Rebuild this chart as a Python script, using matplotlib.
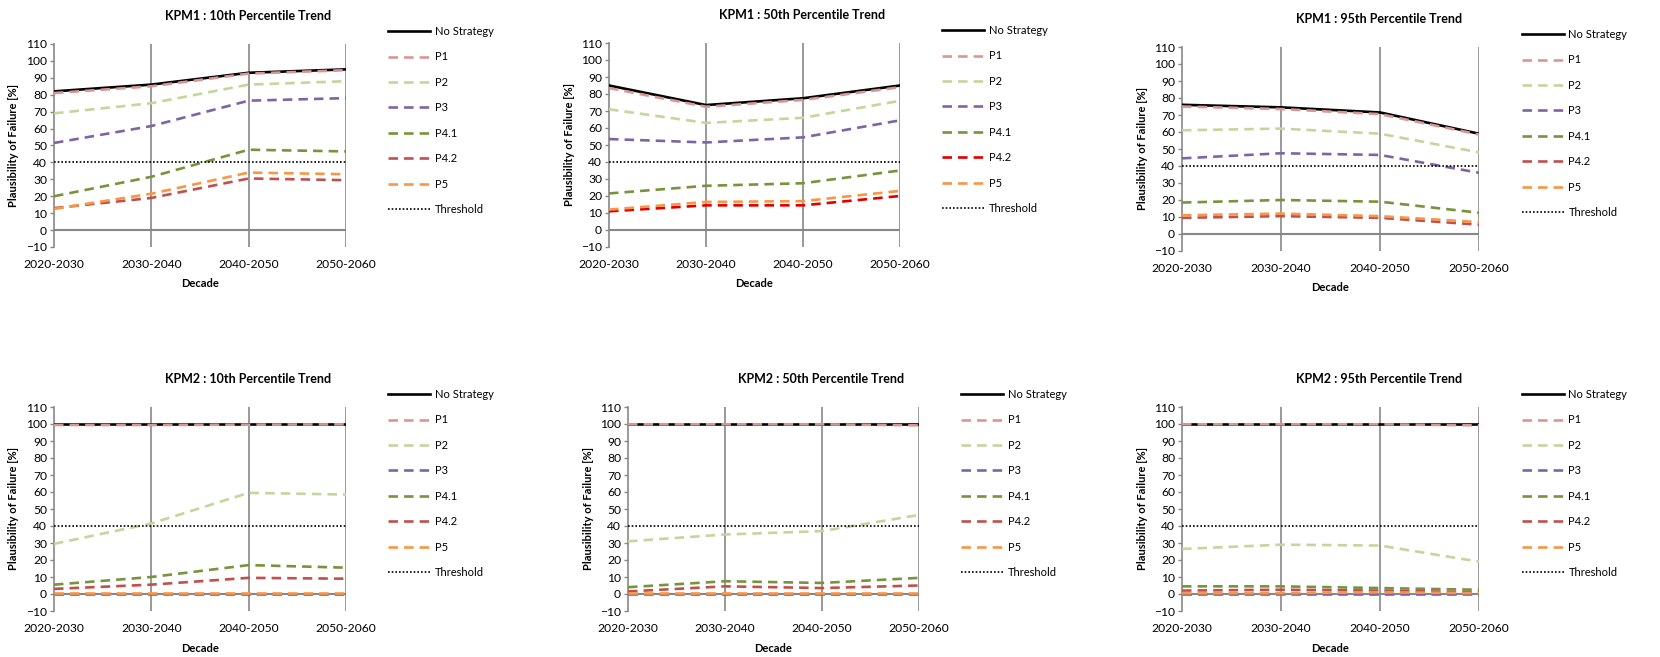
import matplotlib
matplotlib.use('Agg')
import matplotlib.pyplot as plt

plt.rcParams['font.family'] = ['Lato', 'DejaVu Sans']

decades = ['2020-2030', '2030-2040', '2040-2050', '2050-2060']
series_names = ['No Strategy', 'P1', 'P2', 'P3', 'P4.1', 'P4.2', 'P5']
threshold = 40

# KPM1 percentiles
kpm1_p10 = {
    'No Strategy': [82, 86, 93, 95],
    'P1': [81, 85, 92.5, 94.5],
    'P2': [69, 75, 86, 88],
    'P3': [51.5, 61.5, 76.5, 78],
    'P4.1': [20, 31.5, 47.5, 46.5],
    'P4.2': [13, 19, 30.5, 29.5],
    'P5': [12.5, 21.5, 34, 33],
}
kpm1_p50 = {
    'No Strategy': [85, 73.5, 77.5, 85],
    'P1': [83.5, 72.5, 76.5, 84],
    'P2': [71, 63, 66, 76],
    'P3': [53.5, 51.5, 54.5, 64.5],
    'P4.1': [21.5, 26, 27.5, 35],
    'P4.2': [11, 14.5, 14.5, 20],
    'P5': [12, 16.5, 17, 23],
}
kpm1_p95 = {
    'No Strategy': [76, 74.5, 71.5, 59],
    'P1': [75, 73.5, 70.5, 58.5],
    'P2': [61, 62, 59, 48],
    'P3': [44.5, 47.5, 46.5, 36],
    'P4.1': [18.5, 20, 19, 12.5],
    'P4.2': [9.5, 10.5, 9.5, 5.5],
    'P5': [11, 12, 10.5, 7],
}

# KPM2 percentiles
kpm2_p10 = {
    'No Strategy': [100, 100, 100, 100],
    'P1': [99.4, 99.4, 99.6, 99.8],
    'P2': [29.5, 41.5, 59.5, 58.5],
    'P3': [0, 0, 0, 0],
    'P4.1': [5.5, 10, 17, 15.5],
    'P4.2': [3, 5.5, 9.5, 9],
    'P5': [0.3, 0.3, 0.3, 0.3],
}
kpm2_p50 = {
    'No Strategy': [100, 100, 100, 100],
    'P1': [99.8, 99.8, 99.8, 99.2],
    'P2': [31, 35, 37, 46.5],
    'P3': [0, 0, 0, 0],
    'P4.1': [4, 7.5, 6.5, 9.5],
    'P4.2': [1.5, 4.5, 3.5, 5],
    'P5': [0.3, 0.3, 0.3, 0.3],
}
kpm2_p95 = {
    'No Strategy': [100, 100, 100, 100],
    'P1': [99.8, 99.8, 99.8, 99.2],
    'P2': [26.5, 29, 28.5, 19],
    'P3': [0, 0, 0, 0],
    'P4.1': [4.5, 4.5, 3.5, 2.5],
    'P4.2': [2, 2.5, 2, 1],
    'P5': [0.5, 0.5, 1, 0.5],
}

colors = {
    'No Strategy': 'black',
    'P1': '#DA9694',
    'P2': '#C3D69B',
    'P3': '#8064A2',
    'P4.1': '#77933C',
    'P4.2': '#C0504D',
    'P5': '#F79646',
}

panels = [
    ('KPM1 : 10th Percentile Trend', kpm1_p10, {}),
    ('KPM1 : 50th Percentile Trend', kpm1_p50, {'P4.2': '#E00000'}),
    ('KPM1 : 95th Percentile Trend', kpm1_p95, {}),
    ('KPM2 : 10th Percentile Trend', kpm2_p10, {}),
    ('KPM2 : 50th Percentile Trend', kpm2_p50, {}),
    ('KPM2 : 95th Percentile Trend', kpm2_p95, {}),
]

W, H = 1660, 657
fig = plt.figure(figsize=(W / 100, H / 100), dpi=100)

# plot-area boxes in pixels: left, right, top, bottom
boxes = [
    (54, 346, 44, 247), (609, 900, 43, 247), (1182, 1479, 47, 251),
    (54, 346, 407, 611), (628, 919, 407, 611), (1182, 1479, 407, 611),
]

grid_col = '#878787'
x = list(range(len(decades)))

for (title, data, override), (l, r, t, b) in zip(panels, boxes):
    w, h = r - l, b - t
    ax = fig.add_axes([l / W, 1 - b / H, w / W, h / H])
    ax.set_xlim(0, 3)
    ax.set_ylim(-10, 110)

    ax.axhline(0, color=grid_col, lw=1.5, zorder=1)
    for xv in x[1:]:
        ax.axvline(xv, color=grid_col, lw=1.2, zorder=1)

    for name in series_names:
        c = override.get(name, colors[name])
        if name == 'No Strategy':
            ax.plot(x, data[name], color=c, lw=1.9, label=name, zorder=3)
        else:
            ax.plot(x, data[name], color=c, lw=1.9, dashes=(3.6, 2.3),
                    label=name, zorder=3)
    ax.plot(x, [threshold] * len(x), color='black', lw=1.2,
            linestyle=(0, (1, 1.2)), label='Threshold', zorder=3)

    for s in ['top', 'right', 'bottom']:
        ax.spines[s].set_visible(False)
    ax.spines['left'].set_color(grid_col)
    ax.spines['left'].set_linewidth(1.2)

    ax.set_yticks(range(-10, 111, 10))
    ax.set_xticks(x)
    ax.set_xticklabels(decades)
    ax.tick_params(axis='x', length=0, pad=9, labelsize=8.7)
    ax.tick_params(axis='y', length=3, width=1, color=grid_col, pad=2,
                   labelsize=8.7)

    ax.set_xlabel('Decade', fontsize=8, fontweight='bold', va='center')
    ax.xaxis.set_label_coords(0.5, -37 / h)
    ax.set_ylabel('Plausibility of Failure [%]', fontsize=8,
                  fontweight='bold', va='center')
    ax.yaxis.set_label_coords(-40 / w, 0.5)

    ax.text(0.663, 1 + 28 / h, title, transform=ax.transAxes,
            ha='center', va='center', fontsize=9, fontweight='bold')

    ax.legend(loc='upper left', bbox_to_anchor=(1.144, 1 + 18 / h),
              frameon=False, fontsize=8, handlelength=3.8, handletextpad=0.4,
              labelspacing=1.3, borderpad=0, borderaxespad=0)

fig.savefig('out.png', dpi=100)
